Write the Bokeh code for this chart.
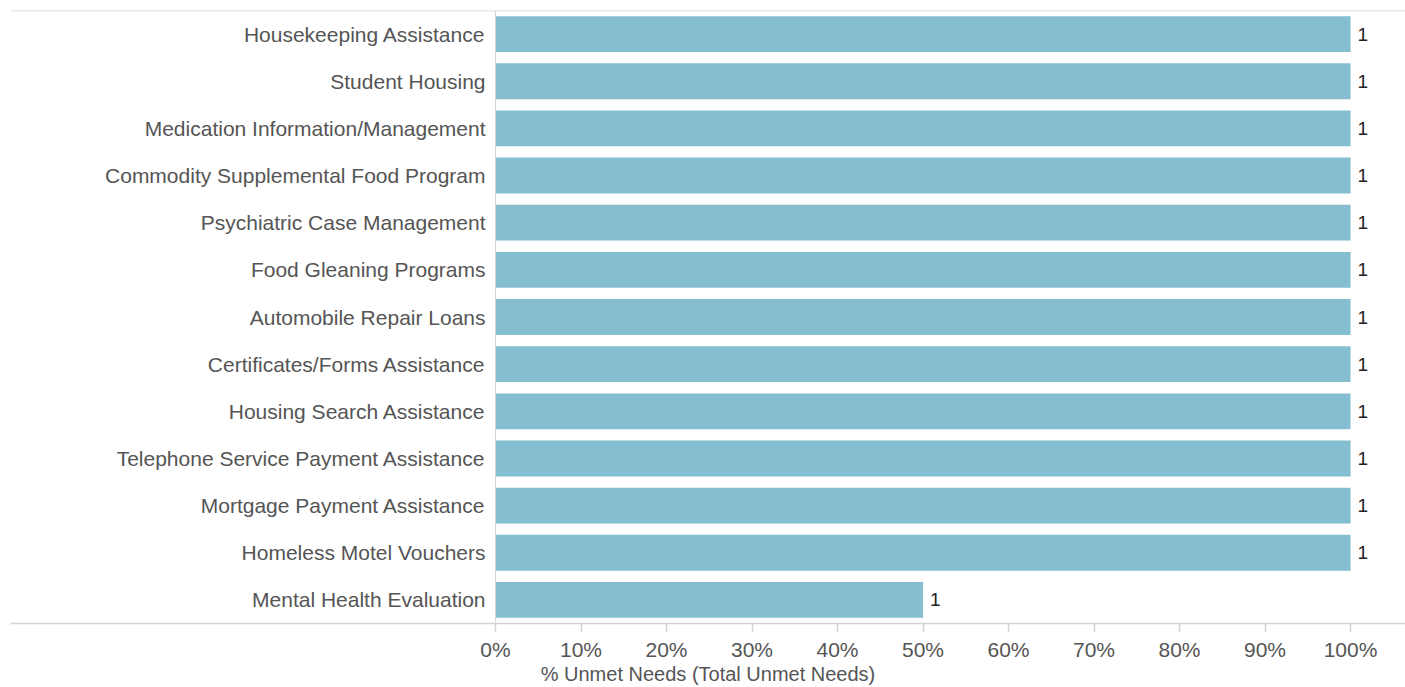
from bokeh.plotting import figure
from bokeh.models import ColumnDataSource, FactorRange, Span, FixedTicker, NumeralTickFormatter
from bokeh.core.properties import value
from bokeh.embed import file_html
from bokeh.resources import INLINE

categories = [
    "Housekeeping Assistance",
    "Student Housing",
    "Medication Information/Management",
    "Commodity Supplemental Food Program",
    "Psychiatric Case Management",
    "Food Gleaning Programs",
    "Automobile Repair Loans",
    "Certificates/Forms Assistance",
    "Housing Search Assistance",
    "Telephone Service Payment Assistance",
    "Mortgage Payment Assistance",
    "Homeless Motel Vouchers",
    "Mental Health Evaluation",
]
pct_unmet = [1.0, 1.0, 1.0, 1.0, 1.0, 1.0, 1.0, 1.0, 1.0, 1.0, 1.0, 1.0, 0.5]
unmet_counts = ["1"] * 13
x_ticks = [0, 0.1, 0.2, 0.3, 0.4, 0.5, 0.6, 0.7, 0.8, 0.9, 1.0]

FONT = "Liberation Sans"
BAR = "#84bed0"
GRAY_LINE = "#d4d4d4"

src = ColumnDataSource(dict(cat=categories, pct=pct_unmet, cnt=unmet_counts,
                            zero=[0] * len(categories)))

p = figure(width=1405, height=687, output_backend="svg", toolbar_location=None,
           y_range=FactorRange(factors=list(reversed(categories)), range_padding=0),
           x_range=(-0.5673, 1.0643),
           min_border_left=10, min_border_right=0, min_border_top=10, min_border_bottom=0)
p.outline_line_color = None
p.background_fill_color = "white"
p.border_fill_color = "white"
p.xgrid.visible = False
p.ygrid.visible = False
p.yaxis.visible = False

p.hbar(y="cat", left=0, right="pct", height=0.76, source=src,
       fill_color=BAR, line_color=None)

# category labels
p.text(x="zero", y="cat", text="cat", source=src, x_offset=-10,
       text_align="right", text_baseline="middle",
       text_font=value(FONT), text_font_size="21px", text_color="#555555")
# value labels
p.text(x="pct", y="cat", text="cnt", source=src, x_offset=7,
       text_align="left", text_baseline="middle",
       text_font=value(FONT), text_font_size="19px", text_color="#222222")

# top rule and zero line
p.add_layout(Span(location=len(categories), dimension="width",
                  line_color=GRAY_LINE, line_width=1.5))
p.add_layout(Span(location=0, dimension="height",
                  line_color=GRAY_LINE, line_width=1))

xa = p.xaxis[0]
xa.ticker = FixedTicker(ticks=x_ticks)
xa.formatter = NumeralTickFormatter(format="0%")
xa.axis_line_color = GRAY_LINE
xa.axis_line_width = 1.5
xa.major_tick_line_color = GRAY_LINE
xa.major_tick_line_width = 1.5
xa.major_tick_in = 0
xa.major_tick_out = 9
xa.minor_tick_line_color = None
xa.major_label_text_font = FONT
xa.major_label_text_font_size = "21px"
xa.major_label_text_color = "#555555"
xa.major_label_standoff = 5
xa.axis_label = "% Unmet Needs (Total Unmet Needs)"
xa.axis_label_text_font = FONT
xa.axis_label_text_font_size = "20px"
xa.axis_label_text_font_style = "normal"
xa.axis_label_text_color = "#555555"
xa.axis_label_standoff = -1

open("out.html", "w").write(file_html(p, INLINE))
